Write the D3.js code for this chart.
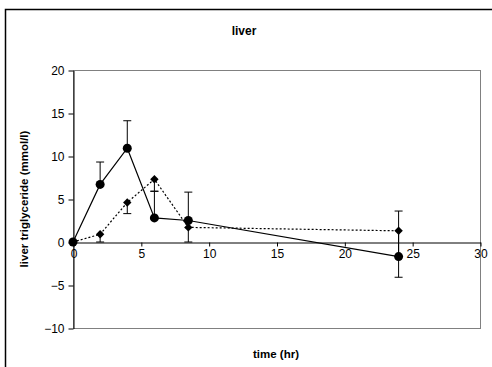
<!DOCTYPE html>
<html>
<head>
<meta charset="utf-8">
<script src="https://cdn.jsdelivr.net/npm/d3@7"></script>
<style>
  body { margin: 0; background: #fff; }
  text { font-family: "Liberation Sans", Arial, sans-serif; }
</style>
</head>
<body>
<svg id="chart" width="492" height="367"></svg>
<script>
var times = [0, 2, 4, 6, 8.5, 24];

// circles, solid line
var circleVals = [0, 6.7, 10.9, 2.8, 2.5, -1.7];
var circleErrUp = [0, 2.6, 3.2, 3.1, 3.3, 5.3];

// diamonds, dotted line
var diamondVals = [0, 0.9, 4.6, 7.3, 1.7, 1.3];
var diamondErrDown = [0, 0.9, 1.3, 1.4, 1.7, 5.4];

var xTicks = [0, 5, 10, 15, 20, 25, 30];
var yTicks = [-10, -5, 0, 5, 10, 15, 20];

var svg = d3.select("#chart"),
    plotL = 73, plotR = 480, plotT = 70, plotB = 328;

// outer chart frame (cut off at the right and bottom)
svg.append("path")
    .attr("d", "M5.5,367 V9.5 H492")
    .attr("fill", "none")
    .attr("stroke", "#000")
    .attr("stroke-width", 1.5);

var x = d3.scaleLinear().domain([0, 30]).range([plotL, plotR]);
var y = d3.scaleLinear().domain([-10, 20]).range([plotB, plotT]);

// plot area border (grey)
svg.append("rect")
    .attr("x", plotL + 0.5).attr("y", plotT + 0.5)
    .attr("width", plotR - plotL).attr("height", plotB - plotT)
    .attr("fill", "none")
    .attr("stroke", "#808080")
    .attr("stroke-width", 1);

// y axis
var yAxis = svg.append("g")
    .attr("transform", "translate(" + (plotL + 0.5) + ",0.5)")
    .call(d3.axisLeft(y).tickValues(yTicks).tickSize(5).tickPadding(4).tickSizeOuter(0));
yAxis.select(".domain").attr("stroke", "#000");
yAxis.selectAll("text").attr("font-size", 12).attr("fill", "#000")
    .attr("font-family", "Liberation Sans, Arial, sans-serif");

// x axis at y = 0
var xAxis = svg.append("g")
    .attr("transform", "translate(0.5," + (Math.round(y(0)) + 0.5) + ")")
    .call(d3.axisBottom(x).tickValues(xTicks).tickSize(4).tickPadding(3).tickSizeOuter(0));
xAxis.select(".domain").attr("stroke", "#000");
xAxis.selectAll("text").attr("font-size", 12).attr("fill", "#000")
    .attr("font-family", "Liberation Sans, Arial, sans-serif");

// titles
svg.append("text")
    .attr("x", 244).attr("y", 35)
    .attr("text-anchor", "middle")
    .attr("font-size", 12).attr("font-weight", "bold")
    .text("liver");

svg.append("text")
    .attr("transform", "translate(28," + ((plotT + plotB) / 2) + ") rotate(-90)")
    .attr("text-anchor", "middle")
    .attr("font-size", 11.5).attr("font-weight", "bold")
    .text("liver triglyceride (mmol/l)");

svg.append("text")
    .attr("x", 276).attr("y", 358)
    .attr("text-anchor", "middle")
    .attr("font-size", 11.5).attr("font-weight", "bold")
    .text("time (hr)");

var circles = times.map(function(t, i) {
    return {t: t, v: circleVals[i], lo: circleVals[i], hi: circleVals[i] + circleErrUp[i]};
});
var diamonds = times.map(function(t, i) {
    return {t: t, v: diamondVals[i], lo: diamondVals[i] - diamondErrDown[i], hi: diamondVals[i]};
});

var line = d3.line()
    .x(function(d) { return x(d.t); })
    .y(function(d) { return y(d.v); });

// error bars
function errorBars(data, cls, isUp) {
    var g = svg.append("g").attr("class", cls);
    data.forEach(function(d) {
        if (d.hi === d.lo) return;
        g.append("line")
            .attr("x1", x(d.t)).attr("x2", x(d.t))
            .attr("y1", y(d.lo)).attr("y2", y(d.hi))
            .attr("stroke", "#000").attr("stroke-width", 1);
        var capY = isUp ? y(d.hi) : y(d.lo);
        g.append("line")
            .attr("x1", x(d.t) - 4).attr("x2", x(d.t) + 4)
            .attr("y1", capY).attr("y2", capY)
            .attr("stroke", "#000").attr("stroke-width", 1);
    });
}
errorBars(circles, "err-c", true);
errorBars(diamonds, "err-d", false);

// lines
svg.append("path")
    .datum(diamonds)
    .attr("d", line)
    .attr("fill", "none")
    .attr("stroke", "#000")
    .attr("stroke-width", 1.2)
    .attr("stroke-dasharray", "2,2");

svg.append("path")
    .datum(circles)
    .attr("d", line)
    .attr("fill", "none")
    .attr("stroke", "#000")
    .attr("stroke-width", 1.2);

// markers
svg.selectAll(".dia")
    .data(diamonds)
    .enter().append("path")
    .attr("class", "dia")
    .attr("d", d3.symbol().type(d3.symbolDiamond2).size(45))
    .attr("transform", function(d) { return "translate(" + x(d.t) + "," + y(d.v) + ")"; })
    .attr("fill", "#000");

svg.selectAll(".circ")
    .data(circles)
    .enter().append("circle")
    .attr("class", "circ")
    .attr("cx", function(d) { return x(d.t); })
    .attr("cy", function(d) { return y(d.v); })
    .attr("r", 4.5)
    .attr("fill", "#000");
</script>
</body>
</html>
